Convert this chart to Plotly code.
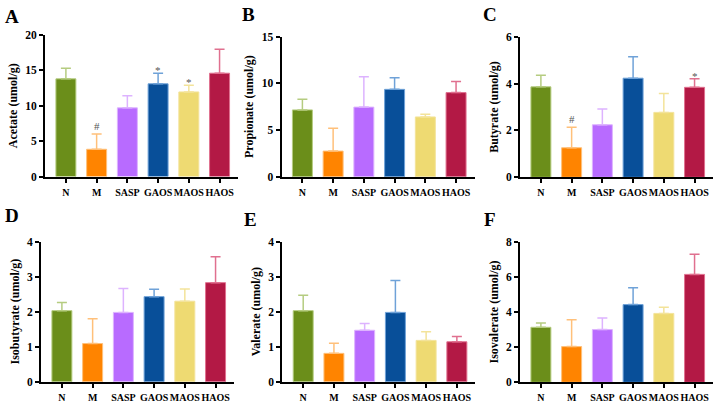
import plotly.graph_objects as go

groups = ["N", "M", "SASP", "GAOS", "MAOS", "HAOS"]
bar_colors = ["#6B8E1A", "#FF8400", "#B86BFF", "#084F99", "#EEDA72", "#B31945"]
err_colors = ["#B5CC80", "#FFC07A", "#DDB3FF", "#6FA2D8", "#F3E39A", "#E0708F"]

panel_letters = ["A", "B", "C", "D", "E", "F"]
y_titles = ["Acetate (umol/g)", "Propionate (umol/g)", "Butyrate (umol/g)",
            "Isobutyrate (umol/g)", "Valerate (umol/g)", "Isovalerate (umol/g)"]
y_max = [20, 15, 6, 4, 4, 8]
y_dtick = [5, 5, 2, 1, 1, 2]

acetate_mean = [13.8, 3.85, 9.7, 13.1, 11.95, 14.6]
acetate_err = [1.5, 2.15, 1.7, 1.5, 0.95, 3.4]
propionate_mean = [7.15, 2.75, 7.45, 9.35, 6.4, 9.0]
propionate_err = [1.15, 2.45, 3.25, 1.25, 0.3, 1.2]
butyrate_mean = [3.86, 1.26, 2.24, 4.23, 2.77, 3.84]
butyrate_err = [0.5, 0.88, 0.67, 0.91, 0.81, 0.37]
isobutyrate_mean = [2.03, 1.09, 1.98, 2.43, 2.30, 2.83]
isobutyrate_err = [0.23, 0.71, 0.68, 0.21, 0.35, 0.74]
valerate_mean = [2.03, 0.81, 1.47, 1.98, 1.18, 1.14]
valerate_err = [0.44, 0.29, 0.19, 0.91, 0.25, 0.15]
isovalerate_mean = [3.13, 2.03, 3.0, 4.42, 3.92, 6.14]
isovalerate_err = [0.24, 1.53, 0.66, 0.96, 0.35, 1.14]

means = [acetate_mean, propionate_mean, butyrate_mean,
         isobutyrate_mean, valerate_mean, isovalerate_mean]
errs = [acetate_err, propionate_err, butyrate_err,
        isobutyrate_err, valerate_err, isovalerate_err]

# significance marks: (panel index, group, symbol)
sig_marks = [(0, "M", "#"), (0, "GAOS", "*"), (0, "MAOS", "*"),
             (2, "M", "#"), (2, "HAOS", "*")]

W, H = 721, 405
# pixel layout of each panel: x0, x1, y_top, y_bottom
px = [(45, 238, 35, 176.5), (281.5, 474.5, 36.5, 176.8), (520, 713, 36.7, 177.3),
      (41, 234, 241.7, 381.7), (282.3, 475.3, 241.7, 381.7), (520, 713, 241.7, 382.3)]
letter_px = [(12, 16), (248, 15), (490, 15), (12, 215), (250, 219), (490, 219)]

FONT = "Liberation Serif, Times New Roman, serif"

fig = go.Figure()
layout = dict(
    width=W, height=H, margin=dict(l=0, r=0, t=0, b=0, autoexpand=False),
    paper_bgcolor="white", plot_bgcolor="white",
    barmode="overlay", showlegend=False,
    font=dict(family=FONT, color="black"),
)
annotations = []

for p in range(6):
    sfx = "" if p == 0 else str(p + 1)
    xa, ya = "x" + sfx, "y" + sfx
    for g in range(6):
        fig.add_trace(go.Bar(
            x=[groups[g]], y=[means[p][g]], xaxis=xa, yaxis=ya,
            width=0.65,
            marker=dict(color=bar_colors[g], line=dict(color=err_colors[g], width=1)),
            error_y=dict(type="data", symmetric=False, array=[errs[p][g]], arrayminus=[0],
                         color=err_colors[g], thickness=1.5, width=5),
        ))
    x0, x1, yt, yb = px[p]
    layout["xaxis" + sfx] = dict(
        domain=[x0 / W, x1 / W], anchor=ya, range=[-0.68, 5.6], automargin=False,
        type="category", categoryorder="array", categoryarray=groups,
        showline=True, linecolor="black", linewidth=2, ticks="outside",
        ticklen=4, tickwidth=1.5, tickcolor="black", showgrid=False, zeroline=False,
        tickangle=0, ticklabelstandoff=1,
        tickfont=dict(family=FONT, size=10, color="black", weight="bold"),
    )
    layout["yaxis" + sfx] = dict(
        domain=[1 - yb / H, 1 - yt / H], anchor=xa, range=[0, y_max[p]], automargin=False,
        dtick=y_dtick[p], showline=True, linecolor="black", linewidth=2,
        ticks="outside", ticklen=4, tickwidth=1.5, tickcolor="black",
        showgrid=False, zeroline=False,
        tickfont=dict(family=FONT, size=11.5, color="black", weight="bold"),
        title=dict(text=y_titles[p], standoff=5,
                   font=dict(family=FONT, size=12, color="black", weight="bold")),
    )
    lx, ly = letter_px[p]
    annotations.append(dict(
        text=panel_letters[p], x=lx / W, y=1 - ly / H, xref="paper", yref="paper",
        showarrow=False, xanchor="center", yanchor="middle",
        font=dict(family=FONT, size=19, color="black", weight="bold"),
    ))

for p, grp, sym in sig_marks:
    sfx = "" if p == 0 else str(p + 1)
    g = groups.index(grp)
    annotations.append(dict(
        text=sym, x=grp, y=means[p][g] + errs[p][g], xref="x" + sfx, yref="y" + sfx,
        showarrow=False, yanchor="bottom", yshift=(0 if sym == "#" else -5),
        font=dict(family=FONT, size=11, color="#555555"),
    ))

layout["annotations"] = annotations
fig.update_layout(**layout)
fig.write_html("out.html", config={"displayModeBar": False},
               post_script="document.body.style.margin='0';document.body.style.overflow='hidden';")
